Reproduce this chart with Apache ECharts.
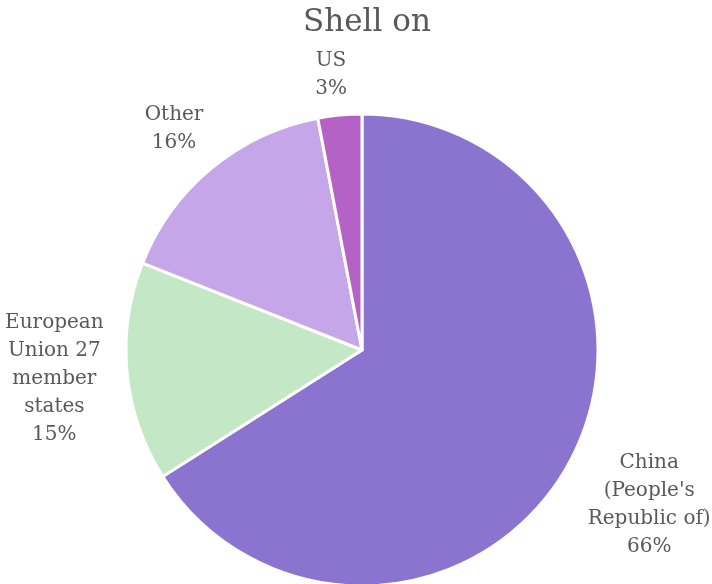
<!DOCTYPE html>
<html>
<head>
<meta charset="utf-8">
<script src="https://cdn.jsdelivr.net/npm/echarts@6/dist/echarts.min.js"></script>
<style>
  html, body { margin: 0; padding: 0; background: #fff; }
  #chart { width: 712px; height: 584px; }
</style>
</head>
<body>
<div id="chart"></div>
<script>
// Share of shell-on production by region (percent)
const categories = ["China\n(People's\nRepublic of)", "European\nUnion 27\nmember\nstates", "Other", "US"];
const shares = [66, 15, 16, 3];
const colors = ['#8b74d0', '#c4e7c6', '#c5a6e8', '#b462c6'];
// how far each label sits beyond the rim (taller labels need more room)
const labelGap = [86, 68, 51, 40];

const FONT = 'DejaVu Serif';

const chart = echarts.init(document.getElementById('chart'));
chart.setOption({
  animation: false,
  title: {
    text: 'Shell on',
    left: 362,
    textAlign: 'center',
    top: 2,
    textStyle: { fontFamily: FONT, fontSize: 31, fontWeight: 'normal', color: '#595959' }
  },
  series: [{
    type: 'pie',
    center: [362, 350],
    radius: 236,
    startAngle: 90,
    clockwise: true,
    avoidLabelOverlap: false,
    itemStyle: { borderColor: '#ffffff', borderWidth: 3 },
    label: {
      show: true,
      position: 'outside',
      formatter: p => p.name.split('\n').map(s => '{t|' + s + '}').join('\n') + '\n{t|' + p.value + '%}',
      rich: {
        t: { fontFamily: FONT, fontSize: 20, lineHeight: 28, color: '#595959', align: 'center' }
      }
    },
    labelLine: { show: false, length2: 0 },
    labelLayout: { align: 'center' },
    data: categories.map((c, i) => ({
      name: c,
      value: shares[i],
      itemStyle: { color: colors[i] },
      labelLine: { length: labelGap[i] }
    }))
  }]
});
</script>
</body>
</html>
